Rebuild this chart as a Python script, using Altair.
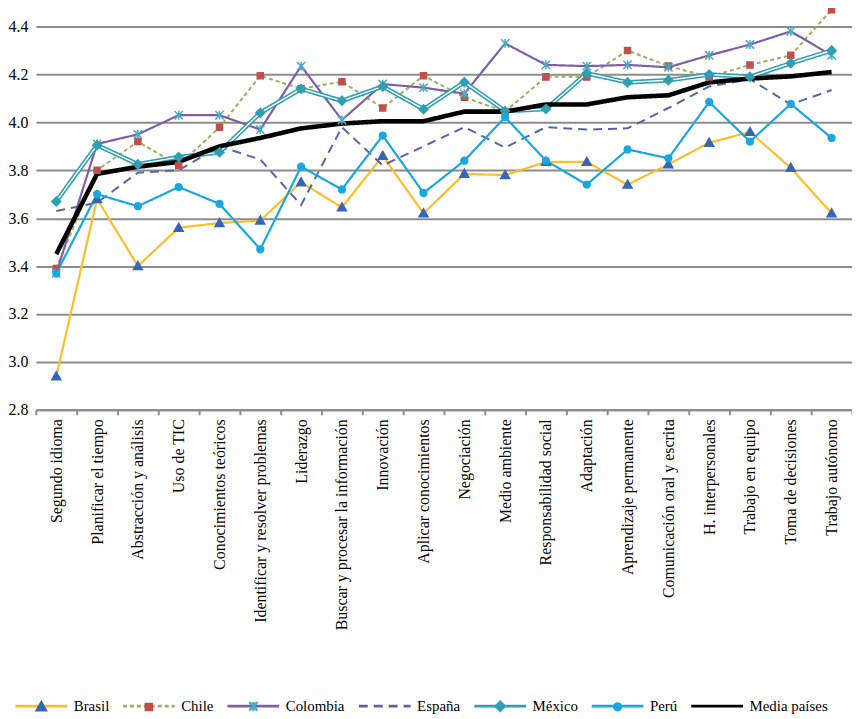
import json
import altair as alt
import pandas as pd

categories = [
    "Segundo idioma", "Planificar el tiempo", "Abstracción y análisis", "Uso de TIC",
    "Conocimientos teóricos", "Identificar y resolver problemas", "Liderazgo",
    "Buscar y procesar la información", "Innovación", "Aplicar conocimientos",
    "Negociación", "Medio ambiente", "Responsabilidad social", "Adaptación",
    "Aprendizaje permanente", "Comunicación oral y escrita", "H. interpersonales",
    "Trabajo en equipo", "Toma de decisiones", "Trabajo autónomo",
]
countries = ["Brasil", "Chile", "Colombia", "España", "México", "Perú", "Media países"]

brasil = [2.94, 3.68, 3.40, 3.56, 3.58, 3.59, 3.75, 3.645, 3.86, 3.62,
          3.785, 3.78, 3.835, 3.835, 3.74, 3.825, 3.915, 3.96, 3.81, 3.62]
chile = [3.39, 3.80, 3.92, 3.82, 3.98, 4.195, 4.14, 4.17, 4.06, 4.195,
         4.105, 4.045, 4.19, 4.19, 4.30, 4.235, 4.19, 4.24, 4.28, 4.47]
colombia = [3.37, 3.91, 3.95, 4.03, 4.03, 3.97, 4.235, 4.01, 4.16, 4.145,
            4.12, 4.33, 4.24, 4.235, 4.24, 4.23, 4.28, 4.325, 4.38, 4.28]
espana = [3.63, 3.665, 3.79, 3.80, 3.90, 3.845, 3.655, 3.98, 3.82, 3.90,
          3.98, 3.895, 3.98, 3.97, 3.975, 4.06, 4.15, 4.18, 4.075, 4.135]
mexico = [3.67, 3.905, 3.825, 3.855, 3.875, 4.04, 4.14, 4.09, 4.15, 4.055,
          4.168, 4.047, 4.056, 4.205, 4.167, 4.176, 4.20, 4.19, 4.247, 4.30]
peru = [3.37, 3.70, 3.65, 3.73, 3.66, 3.47, 3.815, 3.72, 3.945, 3.705,
        3.84, 4.022, 3.84, 3.74, 3.887, 3.85, 4.085, 3.92, 4.077, 3.935]
media = [3.45, 3.785, 3.815, 3.835, 3.90, 3.935, 3.975, 3.995, 4.005, 4.005,
         4.045, 4.045, 4.075, 4.075, 4.105, 4.113, 4.167, 4.183, 4.192, 4.21]

series = [brasil, chile, colombia, espana, mexico, peru, media]
y_ticks = [2.8, 3.0, 3.2, 3.4, 3.6, 3.8, 4.0, 4.2, 4.4]

rows = []
for name, vals in zip(countries, series):
    for i, v in enumerate(vals):
        rows.append({"pais": name, "idx": i, "valor": v})
df = pd.DataFrame(rows)

# line styles
line_colors = ["#fcbf2a", "#98b15b", "#7e5fa6", "#5a63a8", "#2f9fb3", "#1aa7df", "#000000"]
dashes = [[1, 0], [4, 3], [1, 0], [9, 6], [1, 0], [1, 0], [1, 0]]
widths = [2.2, 2.0, 2.2, 2.0, 4.6, 2.2, 4.6]

# marker styles (order differs from the line legend so both legends stay separate)
marker_countries = ["Brasil", "Chile", "Colombia", "México", "Perú"]
marker_domain = marker_countries + ["España", "Media países"]
EXT = "M-1,0L-1,0M1,0L1,0"
marker_shapes = [
    EXT + "M0,-0.17L0.17,0.13L-0.17,0.13Z",
    EXT + "M-0.115,-0.115L0.115,-0.115L0.115,0.115L-0.115,0.115Z",
    EXT + "M-0.16,-0.16L0.16,0.16M-0.16,0.16L0.16,-0.16M0,-0.17L0,0.17",
    EXT + "M0,-0.17L0.17,0L0,0.17L-0.17,0Z",
    EXT + "M-0.13,0A0.13,0.13 0 1 0 0.13,0A0.13,0.13 0 1 0 -0.13,0Z",
    EXT,
    EXT,
]
marker_fill = ["#3567b4", "#c0504d", "#4bacc6", "#2f9fb3", "#1aa7df", "transparent", "transparent"]
marker_stroke = ["#3567b4", "#c0504d", "#4bacc6", "#2f9fb3", "#1aa7df", "transparent", "transparent"]

FONT = "Liberation Serif"
GRID = "#8c8c8c"
SYM = 2704

legend_lines = alt.Legend(
    title=None, orient="none", legendX=-22, legendY=655, direction="horizontal",
    symbolType="stroke", symbolSize=SYM, symbolStrokeWidth=2.6,
    labelFont=FONT, labelFontSize=15, labelColor="black", labelOffset=5,
    columnPadding=8, symbolOpacity=1, labelLimit=0,
)
legend_marks = alt.Legend(
    title=None, orient="none", legendX=-22, legendY=655, direction="horizontal",
    symbolSize=SYM, symbolStrokeWidth=2.6, values=countries,
    labelFont=FONT, labelFontSize=15, labelColor="black", labelOffset=5, labelOpacity=0,
    columnPadding=8, symbolOpacity=1, labelLimit=0,
)

x_values = [k * 0.5 - 0.5 for k in range(41)]
cat_expr = json.dumps(categories, ensure_ascii=False)
x_enc = alt.X(
    "idx:Q",
    scale=alt.Scale(domain=[-0.5, 19.5], nice=False, zero=False),
    axis=alt.Axis(
        values=x_values, title=None, grid=False,
        labelExpr=f"datum.value % 1 === 0 ? {cat_expr}[datum.value] : ''",
        labelAngle=-90, labelFont=FONT, labelFontSize=16, labelColor="black",
        labelOverlap=False, labelFlush=False, labelBound=False, labelPadding=4,
        labelLimit=0,
        domainColor=GRID, domainWidth=2, tickColor=GRID, tickWidth=2, tickSize=5,
        tickOpacity={"condition": {"test": "datum.value % 1 === 0", "value": 0}, "value": 1},
    ),
)
y_enc = alt.Y(
    "valor:Q",
    scale=alt.Scale(domain=[2.8, 4.4], nice=False, zero=False),
    axis=alt.Axis(
        values=y_ticks, format=".1f", title=None, domain=False, ticks=False,
        gridColor=GRID, gridWidth=2, gridOpacity=1, labelFont=FONT, labelFontSize=16,
        labelColor="black", labelPadding=8,
    ),
)

color_enc = alt.Color("pais:N", scale=alt.Scale(domain=countries, range=line_colors), legend=legend_lines)
dash_enc = alt.StrokeDash("pais:N", scale=alt.Scale(domain=countries, range=dashes), legend=legend_lines)

base = alt.Chart(df)

layers = []
for name, w in zip(countries, widths):
    layers.append(
        base.mark_line(strokeWidth=w).encode(
            x=x_enc, y=y_enc, color=color_enc, strokeDash=dash_enc
        ).transform_filter(alt.datum.pais == name)
    )
    if name == "México":
        layers.append(
            base.mark_line(color="white", strokeWidth=1.4).encode(
                x=x_enc, y=y_enc
            ).transform_filter(alt.datum.pais == name)
        )

points = base.mark_point(filled=True, opacity=1, strokeWidth=1.6, size=SYM).encode(
    x=x_enc, y=y_enc,
    shape=alt.Shape("pais:N", scale=alt.Scale(domain=marker_domain, range=marker_shapes), legend=legend_marks),
    fill=alt.Fill("pais:N", scale=alt.Scale(domain=marker_domain, range=marker_fill), legend=legend_marks),
    stroke=alt.Stroke("pais:N", scale=alt.Scale(domain=marker_domain, range=marker_stroke), legend=legend_marks),
).transform_filter(alt.FieldOneOfPredicate(field="pais", oneOf=marker_countries))
layers.append(points)

chart = alt.layer(*layers).properties(
    width=820, height=385,
    autosize=alt.AutoSizeParams(type="none"),
    padding={"left": 28, "top": 17, "right": 0, "bottom": 304},
    background="white",
).configure_view(stroke=None).configure_legend(labelFont=FONT, labelFontSize=15)

chart.save("out.html", embed_options={"renderer": "svg", "actions": False})
